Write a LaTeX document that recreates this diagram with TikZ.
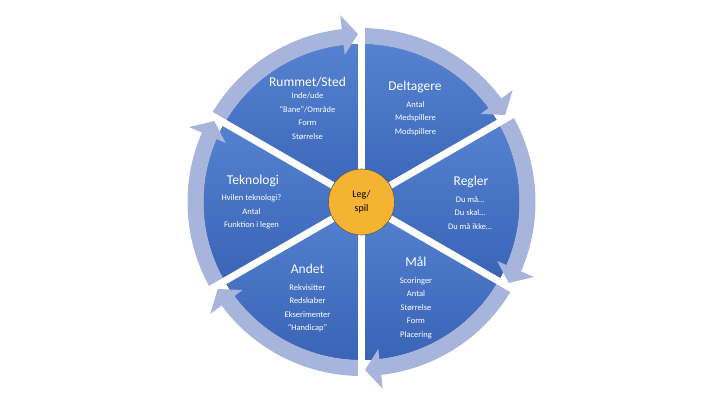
\documentclass[tikz,border=0pt]{standalone}
\usepackage{fontspec}
\setmainfont{Carlito}
\usepackage{tikz}
\usetikzlibrary{positioning, calc}
\definecolor{cyWedgeTop}{HTML}{5482D0}
\definecolor{cyWedgeBot}{HTML}{3A64B7}
\definecolor{cyBand}{HTML}{A7B4DB}
\definecolor{cyHub}{HTML}{F4B330}
\definecolor{cyRim}{HTML}{5A5A5A}
\tikzset{
  segwedge/.style={top color=cyWedgeTop, bottom color=cyWedgeBot, draw=none},
  segband/.style={fill=cyBand, draw=none},
  seggap/.style={draw=white, line width=7pt},
  hubnode/.style={circle, fill=cyHub, draw=cyRim, line width=0.6pt, minimum size=66pt,
    inner sep=0pt, align=center, font=\fontsize{10}{14}\selectfont},
  seghead/.style={text=white, font=\fontsize{13.5}{16}\selectfont, inner sep=0pt},
  segitems/.style={text=white, font=\fontsize{8.5}{13.5}\selectfont, align=center, inner sep=0pt}
}

\begin{document}
\begin{tikzpicture}[x=1pt, y=1pt]
  \useasboundingbox (-361.5,-203) rectangle (358.5,202);
  \foreach \a in {150,90,30,-30,-90,-150} {
    \pgfmathsetmacro{\b}{\a-60}
    \pgfmathsetmacro{\h}{\b+6.5}
    \pgfmathsetmacro{\t}{\b+1.2}
    \fill[segwedge] (0,0) -- (\a:158pt) arc[start angle=\a, end angle=\b, radius=158pt] -- cycle;
    \fill[segband] (\a:158pt) -- (\a:174pt) arc[start angle=\a, end angle=\h, radius=174pt]
      -- (\h:188pt) -- (\t:168pt) -- (\h:148pt) -- (\h:158pt)
      arc[start angle=\h, end angle=\a, radius=158pt] -- cycle;
  }
  \foreach \a in {150,90,30,-30,-90,-150}
    \draw[seggap] (0,0) -- (\a:196pt);

  \node[hubnode] (hub) at (0,0) {Leg/\\spil};

  \node[seghead] (rum) at (-54,120) {Rummet/Sted};
  \node[segitems] (rumList) at (-54,86) {Inde/ude\\“Bane”/Område\\Form\\Størrelse};
  \node[seghead] (delt) at (53.5,115) {Deltagere};
  \node[segitems] (deltList) at (54,83.5) {Antal\\Medspillere\\Modspillere};
  \node[seghead] (regl) at (109.5,20) {Regler};
  \node[segitems] (reglList) at (108.5,-11) {Du må…\\Du skal…\\Du må ikke…};
  \node[seghead] (maal) at (54.5,-60) {Mål};
  \node[segitems] (maalList) at (54.5,-106) {Scoringer\\Antal\\Størrelse\\Form\\Placering};
  \node[seghead] (andet) at (-54,-67) {Andet};
  \node[segitems] (andetList) at (-54,-106) {Rekvisitter\\Redskaber\\Ekserimenter\\“Handicap”};
  \node[seghead] (tekn) at (-108.5,21) {Teknologi};
  \node[segitems] (teknList) at (-110,-10) {Hvilen teknologi?\\Antal\\Funktion i legen};
\end{tikzpicture}
\end{document}
